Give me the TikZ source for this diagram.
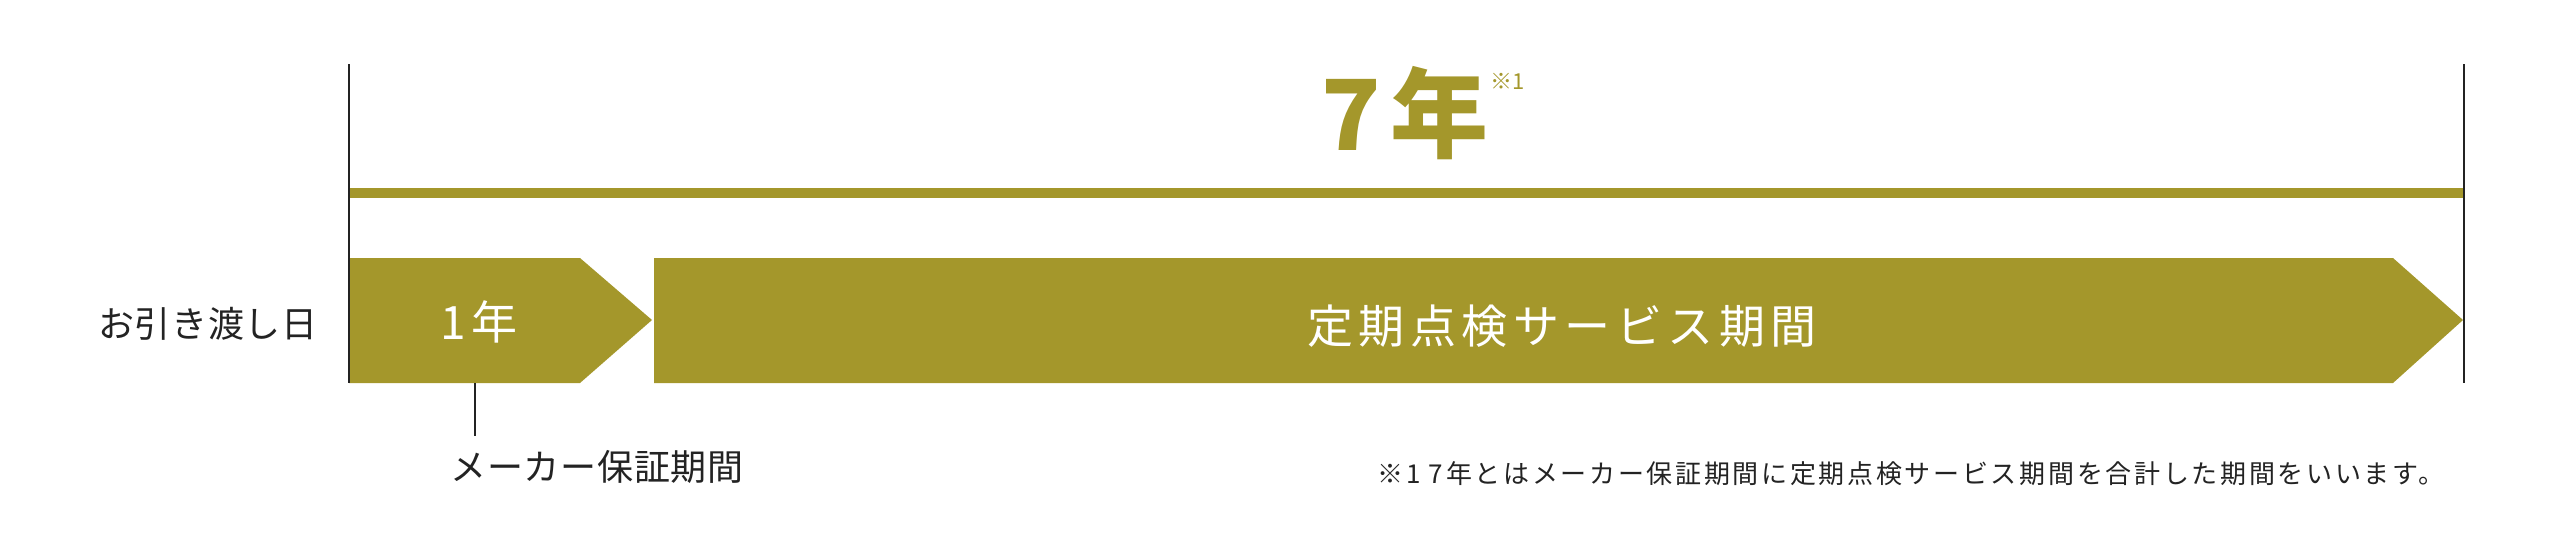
\documentclass[tikz,border=0pt]{standalone}
\usepackage{fontspec}
\setmainfont{Noto Sans CJK JP}
\usepackage{tikz}
\usepackage{xcolor}
\usetikzlibrary{positioning, calc}

\definecolor{periodgold}{RGB}{164,151,43}
\definecolor{inkgray}{RGB}{35,35,35}

\tikzset{
  period/.style={fill=periodgold, draw=none},
  tickline/.style={draw=inkgray, line width=1pt},
  leader/.style={draw=inkgray, line width=0.8pt},
  darklabel/.style={text=inkgray, inner sep=0pt, font=\fontsize{18}{18}\selectfont\addfontfeatures{LetterSpace=2}},
  whitelabel/.style={text=white, inner sep=0pt, font=\fontsize{23}{23}\selectfont\addfontfeatures{LetterSpace=12}},
  bigyear/.style={text=periodgold, inner sep=0pt, font=\fontsize{49}{49}\selectfont\bfseries},
  notelabel/.style={text=inkgray, inner sep=0pt, font=\fontsize{13}{13}\selectfont\addfontfeatures{LetterSpace=10.3}}
}

\begin{document}
\begin{tikzpicture}[x=0.5pt, y=-0.5pt]
\useasboundingbox (0,0) rectangle (2560,552);
% Time line from handover to the end of seven years
\coordinate (handtop) at (349,64);
\coordinate (handbot) at (349,383);
\coordinate (endtop) at (2464,64);
\coordinate (endbot) at (2464,383);

\fill[period] (349,188) rectangle (2464,198);

% warranty arrow and service arrow
\fill[period] (349,258) -- (580,258) -- (652,320) -- (580,383) -- (349,383) -- cycle;
\fill[period] (654,258) -- (2393,258) -- (2463,320) -- (2393,383) -- (654,383) -- cycle;

\draw[tickline] (handtop) -- (handbot);
\draw[tickline] (endtop) -- (endbot);

\node[bigyear] (total) at (1405,113) {7\hspace{5pt}年};
\node[text=periodgold, inner sep=0pt, font=\fontsize{11}{11}\selectfont] (totalnote) at (1508,81) {※1};

\node[darklabel, anchor=east] (handover) at (318,324) {お引き渡し日};
\node[whitelabel] (oneyear) at (479,322) {1年};
\node[whitelabel] (service) at (1562,326) {定期点検サービス期間};

\coordinate (warrantybot) at (475,383);
\node[darklabel] (maker) at (597,467) {メーカー保証期間};
\draw[leader] (warrantybot) -- (warrantybot |- 0,436);

\node[notelabel, anchor=west] (footnote) at (1377,474) {※1 7年とはメーカー保証期間に定期点検サービス期間を合計した期間をいいます。};
\end{tikzpicture}
\end{document}
